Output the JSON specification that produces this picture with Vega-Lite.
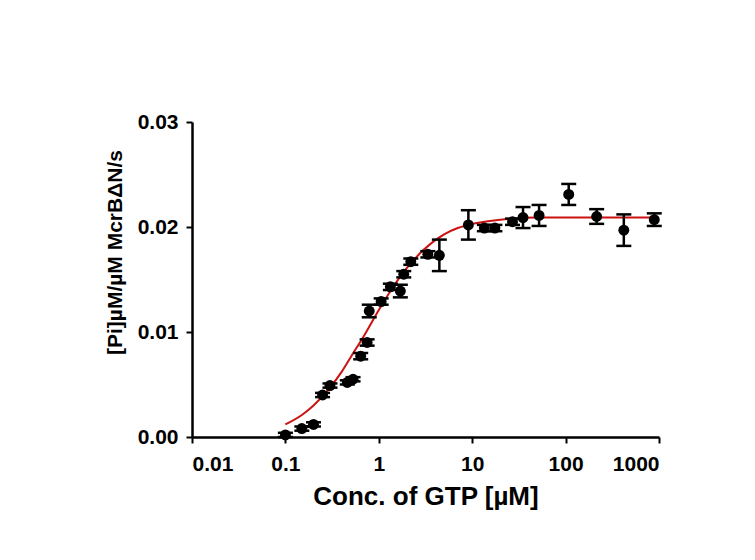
{
  "$schema": "https://vega.github.io/schema/vega-lite/v6.json",
  "width": 467,
  "height": 315,
  "autosize": "none",
  "padding": {"left": 192, "top": 122, "right": 96, "bottom": 123},
  "background": "white",
  "config": {
    "view": {"stroke": null},
    "font": "Liberation Sans",
    "axis": {
      "grid": false,
      "domainColor": "black",
      "domainWidth": 2.5,
      "tickColor": "black",
      "tickWidth": 2,
      "tickSize": 6,
      "labelFont": "Liberation Sans",
      "labelFontWeight": "bold",
      "labelFontSize": 21,
      "labelColor": "black",
      "titleFont": "Liberation Sans",
      "titleFontWeight": "bold",
      "titleColor": "black"
    }
  },
  "datasets": {
    "points": [
      {"x": 0.1, "y": 0.0002, "err": 0.0002},
      {"x": 0.15, "y": 0.0008, "err": 0.0002},
      {"x": 0.2, "y": 0.0012, "err": 0.0002},
      {"x": 0.25, "y": 0.0040, "err": 0.0002},
      {"x": 0.3, "y": 0.0049, "err": 0.0002},
      {"x": 0.46, "y": 0.0052, "err": 0.0002},
      {"x": 0.53, "y": 0.0055, "err": 0.0002},
      {"x": 0.64, "y": 0.0077, "err": 0.0003},
      {"x": 0.75, "y": 0.0090, "err": 0.0003},
      {"x": 0.79, "y": 0.0120, "err": 0.0006},
      {"x": 1.06, "y": 0.0129, "err": 0.0003},
      {"x": 1.33, "y": 0.0143, "err": 0.0003},
      {"x": 1.7, "y": 0.0139, "err": 0.0006},
      {"x": 1.85, "y": 0.0155, "err": 0.0003},
      {"x": 2.2, "y": 0.0167, "err": 0.0003},
      {"x": 3.35, "y": 0.0174, "err": 0.0003},
      {"x": 4.45, "y": 0.0173, "err": 0.0015},
      {"x": 9.1, "y": 0.0202, "err": 0.0014},
      {"x": 13.5, "y": 0.0199, "err": 0.0003},
      {"x": 17.5, "y": 0.0199, "err": 0.0003},
      {"x": 27, "y": 0.0205, "err": 0.0003},
      {"x": 35, "y": 0.0209, "err": 0.0010},
      {"x": 52, "y": 0.0211, "err": 0.0010},
      {"x": 108, "y": 0.0231, "err": 0.0010},
      {"x": 215, "y": 0.0210, "err": 0.0007},
      {"x": 420, "y": 0.0197, "err": 0.0015},
      {"x": 890, "y": 0.0207, "err": 0.0006}
    ],
    "curve": [
      {"x": 0.1, "y": 0.0012},
      {"x": 0.15, "y": 0.0021},
      {"x": 0.2, "y": 0.0030},
      {"x": 0.3, "y": 0.0047},
      {"x": 0.4, "y": 0.0062},
      {"x": 0.5, "y": 0.0076},
      {"x": 0.7, "y": 0.0097},
      {"x": 1, "y": 0.0121},
      {"x": 1.5, "y": 0.0146},
      {"x": 2, "y": 0.0161},
      {"x": 3, "y": 0.0178},
      {"x": 5, "y": 0.0193},
      {"x": 7, "y": 0.0199},
      {"x": 10, "y": 0.0203},
      {"x": 20, "y": 0.0207},
      {"x": 50, "y": 0.0209},
      {"x": 100, "y": 0.0209},
      {"x": 200, "y": 0.0209},
      {"x": 500, "y": 0.0209},
      {"x": 890, "y": 0.0209}
    ]
  },
  "layer": [
    {
      "data": {"name": "curve"},
      "mark": {"type": "line", "color": "#cc1111", "strokeWidth": 2, "interpolate": "monotone"},
      "encoding": {
        "x": {
          "field": "x", "type": "quantitative",
          "scale": {"type": "log", "domain": [0.01, 1000], "nice": false},
          "title": "Conc. of GTP [µM]",
          "axis": {"values": [0.01, 0.1, 1, 10, 100, 1000], "format": "~g", "labelPadding": 10, "titleFontSize": 26, "titlePadding": 9}
        },
        "y": {
          "field": "y", "type": "quantitative",
          "scale": {"domain": [0, 0.03], "nice": false},
          "title": "[Pi]µM/µM McrBΔN/s",
          "axis": {"values": [0, 0.01, 0.02, 0.03], "format": ".2f", "labelPadding": 8, "titleFontSize": 21, "titlePadding": 12, "titleY": 130}
        }
      }
    },
    {
      "data": {"name": "points"},
      "mark": {"type": "errorbar", "ticks": {"color": "black", "opacity": 1}, "rule": {"color": "black", "opacity": 1}, "thickness": 2.5, "size": 15, "color": "black"},
      "encoding": {
        "x": {"field": "x", "type": "quantitative", "title": "Conc. of GTP [µM]"},
        "y": {"field": "y", "type": "quantitative", "title": "[Pi]µM/µM McrBΔN/s"},
        "yError": {"field": "err"}
      }
    },
    {
      "data": {"name": "points"},
      "mark": {"type": "point", "filled": true, "shape": "circle", "size": 120, "color": "black", "opacity": 1},
      "encoding": {
        "x": {"field": "x", "type": "quantitative", "title": "Conc. of GTP [µM]"},
        "y": {"field": "y", "type": "quantitative", "title": "[Pi]µM/µM McrBΔN/s"}
      }
    }
  ]
}
